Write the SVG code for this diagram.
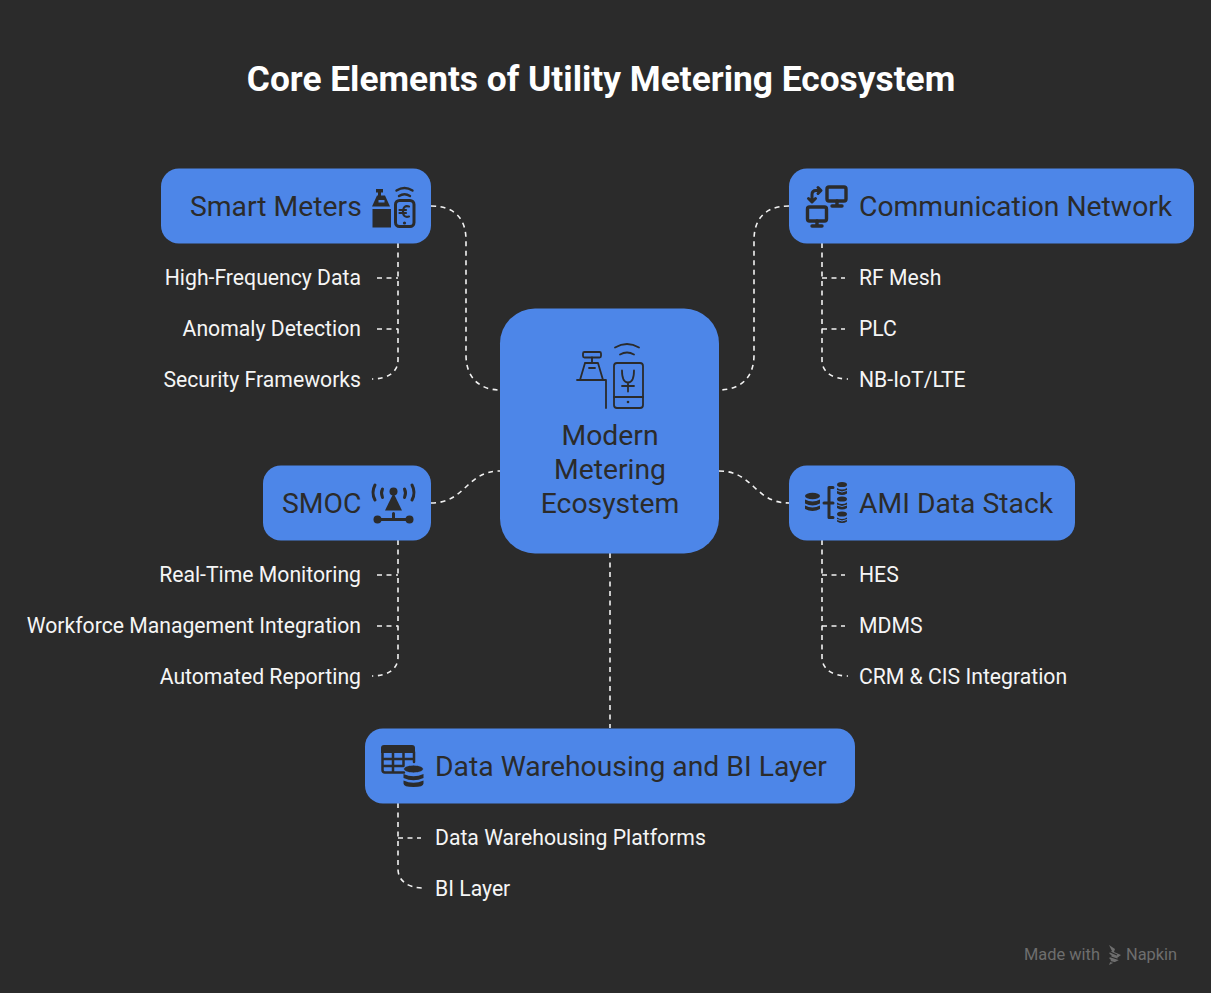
<svg xmlns="http://www.w3.org/2000/svg" width="1211" height="993" viewBox="0 0 1211 993">
<style>
.n{fill:#4d86e8}
.t{font-family:Roboto,"Liberation Sans",sans-serif;font-size:28.3px;fill:#2b2b2b}
.s{font-family:Roboto,"Liberation Sans",sans-serif;font-size:21.2px;fill:#f5f5f5}
.c{fill:none;stroke:#f2f2f2;stroke-width:1.6;stroke-dasharray:5 4.500}
.i{fill:#2b2b2b}
.o{fill:none;stroke:#2b2b2b;stroke-width:1.800;stroke-linecap:round;stroke-linejoin:round}
.b{fill:none;stroke:#2b2b2b;stroke-width:3;stroke-linecap:round;stroke-linejoin:round}
.e{text-anchor:end}
.w{font-family:Roboto,"Liberation Sans",sans-serif;font-size:16.400px;fill:#6e6e6e}
</style>
<rect width="1211" height="993" fill="#2b2b2b"/>
<text x="601" y="90.500" text-anchor="middle" font-family="Roboto,'Liberation Sans',sans-serif" font-size="35.300" font-weight="700" fill="#fff">Core Elements of Utility Metering Ecosystem</text>
<g id="connectors">
<path class="c" d="M431 206C456 206 466 220 466 240V355C466 378 480 390 500 390"/>
<path class="c" d="M789 206C764 206 754 220 754 240V355C754 378 740 390 719 390"/>
<path class="c" d="M431 503C466 503 466 471 500 471"/>
<path class="c" d="M719 471C754 471 754 503 789 503"/>
<path class="c" d="M610 553V728"/>
<path class="c" d="M398 243V360C398 372 388 379 372 379"/>
<path class="c" d="M377 278H398M377 329H398"/>
<path class="c" d="M822 243V360C822 372 832 379 848 379"/>
<path class="c" d="M822 278H845M822 329H845"/>
<path class="c" d="M398 540V657C398 669 388 676 372 676"/>
<path class="c" d="M377 575H398M377 626H398"/>
<path class="c" d="M822 540V657C822 669 832 676 848 676"/>
<path class="c" d="M822 575H845M822 626H845"/>
<path class="c" d="M398 803V869C398 881 408 888 424 888"/>
<path class="c" d="M398 838H421"/>
</g>
<g id="smart-meters">
<rect class="n" x="161" y="168.500" width="270" height="75" rx="18"/>
<text class="t" x="190" y="216">Smart Meters</text>
<path class="i" d="M376 189h7v3.500h-2v3h4l5 11h-18l5-11h1v-3h-2zM372.500 209h18.500v18.500h-18.500z"/>
<path fill="#4d86e8" d="M378.500 200h6v2.500h-6z"/>
<rect class="b" x="395.500" y="200.500" width="18.500" height="26" rx="4"/>
<path class="b" style="stroke-width:2.400" d="M399 196q5.500-3.500 11 0M396.500 190.500q8-5 16 0"/>
<path class="o" style="stroke-width:2.200" d="M409 206.500q-6-1.500-6 5t6 5M399.500 210h6.500M399.500 213h6.500"/>
<circle class="i" cx="404.500" cy="223" r="1.600"/>
</g>
<g id="communication-network">
<rect class="n" x="789" y="168.500" width="405" height="75" rx="18"/>
<text class="t" x="859" y="216">Communication Network</text>
<rect class="b" style="stroke-width:3.400" x="827" y="187" width="19" height="14" rx="2"/>
<path class="b" style="stroke-width:3.400" d="M837 201v5M832 206h10"/>
<rect class="b" style="stroke-width:3.400" x="807.500" y="207" width="19" height="14" rx="2"/>
<path class="b" style="stroke-width:3.400" d="M817 221v5M812 226h10"/>
<path class="b" d="M820 190.500h-4q-4 0-4 4v6M818 187.500l3 3-3 3M808.500 198.500l3.500 3.500 3.500-3.500"/>
</g>
<g id="center">
<rect class="n" x="500" y="308.500" width="219" height="245" rx="35"/>
<rect class="o" x="583" y="352" width="18" height="5.500" rx="1.500"/>
<path class="o" d="M592 357.500v5.500M585 363h13l5 17M585 363l-5 17M589 368h6M577 380h29v28"/>
<rect class="o" x="614" y="363" width="29" height="45" rx="3"/>
<path class="o" d="M614 397h29M622 370.500c0 9 2 12 6 12s6-3 6-12M628 382.500v9M622 386h12M615 347.500q12-7 24 0M620 354.500q7-4 14 0"/>
<circle class="i" cx="628" cy="402" r="1.300"/>
<text class="t" x="610" y="445" text-anchor="middle">Modern</text>
<text class="t" x="610" y="479" text-anchor="middle">Metering</text>
<text class="t" x="610" y="513" text-anchor="middle">Ecosystem</text>
</g>
<g id="smoc">
<rect class="n" x="263" y="465.500" width="168" height="75" rx="18"/>
<text class="t" x="282" y="513">SMOC</text>
<circle class="i" cx="393.500" cy="491.500" r="4"/>
<path class="i" d="M393.500 493l8.500 17.500h-17z"/>
<path class="b" d="M375 485q-4 7.500 0 15M382.500 489q-2 4 0 8.500M412 485q4 7.500 0 15M404.500 489q2 4 0 8.500"/>
<path class="b" d="M378 519.500h31M393.500 513.500v6"/>
<circle class="i" cx="377.500" cy="519.500" r="4"/>
<circle class="i" cx="409.500" cy="519.500" r="4"/>
</g>
<g id="ami-data-stack">
<rect class="n" x="789" y="465.500" width="286" height="75" rx="18"/>
<text class="t" x="859" y="513">AMI Data Stack</text>
<g class="i">
<ellipse cx="812.500" cy="496" rx="7.500" ry="3.200"/><path d="M805 499.500q7.500 4 15 0v4q-7.500 4-15 0zM805 505.500q7.500 4 15 0v3.500q-7.500 4-15 0z"/>
<ellipse cx="842" cy="484.500" rx="5" ry="2.600"/><path d="M837 488q5 3 10 0v5.500q-5 3-10 0z"/>
<ellipse cx="842" cy="499" rx="5" ry="2.600"/><path d="M837 502.500q5 3 10 0v5.500q-5 3-10 0z"/>
<ellipse cx="842" cy="514" rx="5" ry="2.600"/><path d="M837 517.500q5 3 10 0v4q-5 3-10 0z"/>
</g>
<path fill="none" stroke="#4d86e8" stroke-width="1" d="M837 490.500q5 3 10 0M837 505q5 3 10 0M837 519.500q5 3 10 0"/>
<path class="b" d="M833 487.500h-4v30h4M824 503h9"/>
</g>
<g id="data-warehousing">
<rect class="n" x="365" y="728.500" width="490" height="75" rx="18"/>
<text class="t" x="435" y="776">Data Warehousing and BI Layer</text>
<path class="i" d="M384 745h28q3 0 3 3v5h-34v-5q0-3 3-3z"/>
<path class="b" style="stroke-width:2.500" d="M382.500 752v18q0 2.500 2.500 2.500h19M382.500 759h31M382.500 766h21M393 752v20M403.500 752v14M414 752v10"/>
<ellipse class="i" cx="413.500" cy="769" rx="10" ry="4" stroke="#4d86e8" stroke-width="1"/>
<path class="i" d="M403.500 774q10 4.500 20 0v4q-10 4.500-20 0zM403.500 780.500q10 4.500 20 0v3q0 3.500-10 3.500t-10-3.500z"/>
</g>
<g id="smart-meters-items">
<text class="s e" x="361" y="285">High-Frequency Data</text>
<text class="s e" x="361" y="336">Anomaly Detection</text>
<text class="s e" x="361" y="387">Security Frameworks</text>
</g>
<g id="communication-items">
<text class="s" x="859" y="285">RF Mesh</text>
<text class="s" x="859" y="336">PLC</text>
<text class="s" x="859" y="387">NB-IoT/LTE</text>
</g>
<g id="smoc-items">
<text class="s e" x="361" y="582">Real-Time Monitoring</text>
<text class="s e" x="361" y="633">Workforce Management Integration</text>
<text class="s e" x="361" y="684">Automated Reporting</text>
</g>
<g id="ami-items">
<text class="s" x="859" y="582">HES</text>
<text class="s" x="859" y="633">MDMS</text>
<text class="s" x="859" y="684">CRM &amp; CIS Integration</text>
</g>
<g id="data-items">
<text class="s" x="435" y="845">Data Warehousing Platforms</text>
<text class="s" x="435" y="896">BI Layer</text>
</g>
<g id="watermark">
<text class="w" x="1024" y="960">Made with</text>
<path fill="#6e6e6e" d="M1109 945l6 4-1 3 7 3-4 3 2 2-10 5 2-5-2-2 3-2-3-3 3-2z"/>
<path d="M1108 951l9 4M1108 956l12 4M1108 961l8 2" stroke="#2b2b2b" stroke-width="1.200" fill="none"/>
<text class="w" x="1126" y="960">Napkin</text>
</g>
</svg>
